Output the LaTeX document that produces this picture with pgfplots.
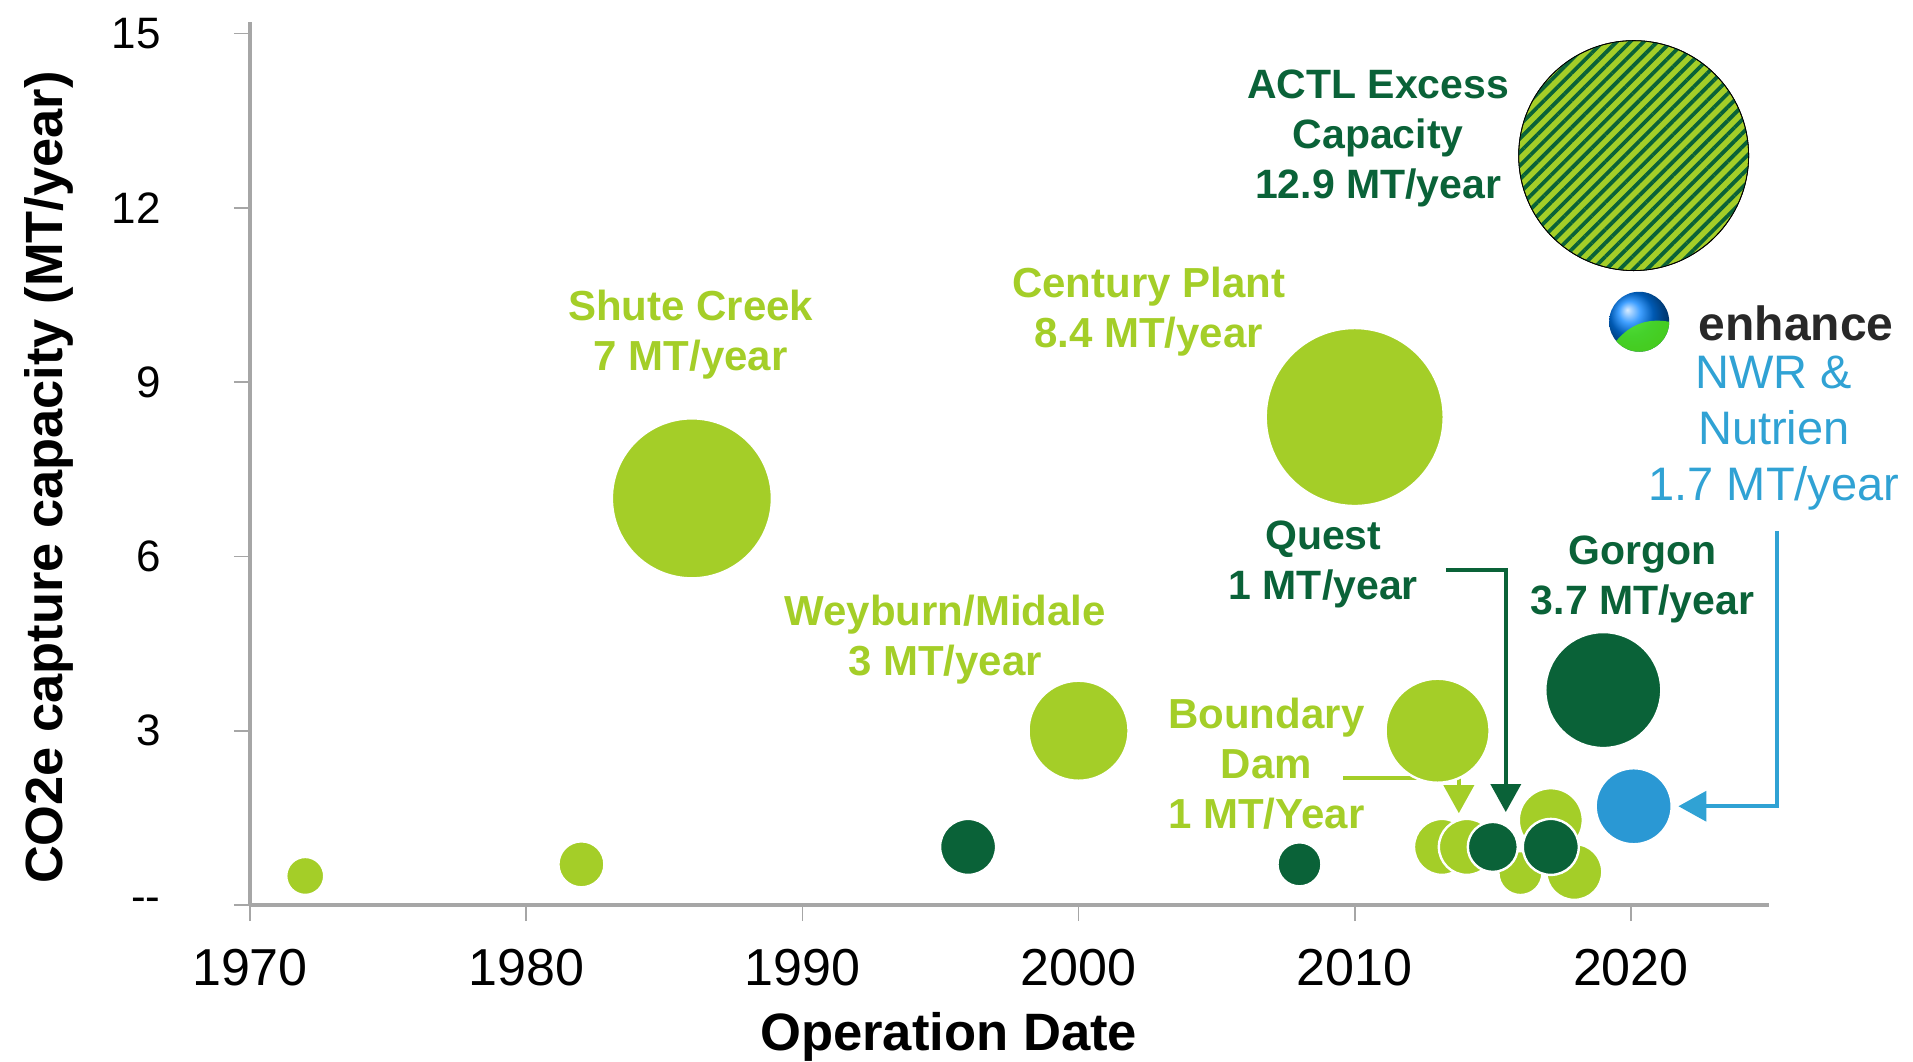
\documentclass[border=0pt]{standalone}
\usepackage{fontspec}
\setmainfont{Liberation Sans}
\usepackage{pgfplots}
\pgfplotsset{compat=1.18}
\usetikzlibrary{patterns.meta,arrows.meta}
\definecolor{lgreen}{RGB}{164,206,40}
\definecolor{dgreen}{RGB}{10,98,56}
\definecolor{bblue}{RGB}{42,152,212}
\definecolor{tblue}{RGB}{48,162,212}
\definecolor{axgray}{RGB}{166,166,166}
\pgfplotstableread{
x y r
1972 0.5 9.5
1982 0.7 11.5
1986 7.0 40
2000 3.0 25
2010 8.4 44.5
2013 3.0 26
2013.16 1.0 14
2014.06 1.0 14
2016.0 0.55 11
2017.1 1.46 16
2017.95 0.57 14
}\lighttab
\pgfplotstableread{
x y r
1996 1.0 14
2008 0.7 11
2015 1.0 12.5
2017.1 1.0 14
2019 3.7 29
}\darktab
\pgfplotstableread{
x y r
2020.1 1.7 19
}\bluetab
\pgfplotstableread{
x y r
2020.1 12.9 57.5
}\actltab
\pgfplotsset{
  bubble/.style={scatter, only marks, mark=*,
    scatter/use mapped color={draw=white, fill=#1},
    visualization depends on={\thisrow{r}\as\rr},
    scatter/@pre marker code/.append style={/tikz/mark size=\rr pt},
    mark options={line width=1.2pt}},
}
\begin{document}
\begin{tikzpicture}
\useasboundingbox (-125pt,-78pt) rectangle (831.5pt,452.5pt);
\begin{axis}[
  at={(0,0)}, anchor=south west,
  scale only axis, width=759.5pt, height=441.5pt,
  xmin=1970, xmax=2025, ymin=0, ymax=15.2,
  clip=false,
  axis x line*=bottom, axis y line*=left,
  axis line style={axgray, line width=1.6pt},
  tick style={axgray, line width=0.8pt},
  tick align=outside, major tick length=8pt,
  xtick={1970,1980,1990,2000,2010,2020},
  xticklabels={1970,1980,1990,2000,2010,2020},
  ytick={0,3,6,9,12,15},
  yticklabels={{-}{-},3,6,9,12,15},
  xticklabel style={font=\fontsize{26}{30}\selectfont, anchor=north, inner sep=0pt, yshift=-14pt},
  yticklabel style={font=\fontsize{22}{26}\selectfont, anchor=east, inner sep=0pt, xshift=-36.5pt},
  xlabel={Operation Date},
  ylabel={CO2e capture capacity (MT/year)},
  every axis x label/.style={at={(rel axis cs:0.46,0)}, yshift=-66pt, anchor=center, font=\fontsize{26.3}{30}\selectfont\bfseries},
  every axis y label/.style={at={(rel axis cs:0,0.484)}, xshift=-100.5pt, rotate=90, anchor=center, font=\fontsize{26.2}{30}\selectfont\bfseries},
]
\addplot[bubble=lgreen] table[x=x,y=y]{\lighttab};
\addplot[bubble=dgreen] table[x=x,y=y]{\darktab};
\addplot[bubble=bblue] table[x=x,y=y]{\bluetab};
\addplot[only marks, mark=*, mark size=57.5pt,
  mark options={draw=none, fill=lgreen}] table[x=x,y=y]{\actltab};
\addplot[only marks, mark=*, mark size=57.5pt,
  mark options={draw=none, pattern={Lines[angle=45, distance=4.8pt, line width=1.9pt]}, pattern color=dgreen}] table[x=x,y=y]{\actltab};

% annotations
\node[align=center, text=dgreen, font=\fontsize{20.5}{25}\selectfont\bfseries] at (axis cs:2010.85,13.19) {ACTL Excess\\Capacity\\12.9 MT/year};
\node[align=center, text=lgreen, font=\fontsize{21}{25}\selectfont\bfseries] at (axis cs:1985.96,9.82) {Shute Creek\\7 MT/year};
\node[align=center, text=lgreen, font=\fontsize{21}{25}\selectfont\bfseries] at (axis cs:2002.54,10.21) {Century Plant\\8.4 MT/year};
\node[align=center, text=lgreen, font=\fontsize{21}{25}\selectfont\bfseries] at (axis cs:1995.17,4.56) {Weyburn/Midale\\3 MT/year};
\node[align=center, text=dgreen, font=\fontsize{20.5}{25}\selectfont\bfseries] at (axis cs:2008.86,5.86) {Quest\\1 MT/year};
\node[align=center, text=dgreen, font=\fontsize{20.5}{25}\selectfont\bfseries] at (axis cs:2020.42,5.60) {Gorgon\\3.7 MT/year};
\node[align=center, text=lgreen, font=\fontsize{21}{25}\selectfont\bfseries] at (axis cs:2006.8,2.43) {Boundary\\Dam\\1 MT/Year};
\node[text={rgb,255:red,40;green,40;blue,40}, font=\fontsize{24}{28}\selectfont\bfseries] at (axis cs:2025.98,10.02) {enhance};
\node[align=center, text=tblue, font=\fontsize{23.5}{28}\selectfont] at (axis cs:2025.18,8.12) {NWR \&\\Nutrien\\1.7 MT/year};
\shade[ball color=cyan!50!blue] (axis cs:2020.3,10.04) circle[radius=15pt];
\fill[green!50!lgreen, opacity=0.85] (axis cs:2020.3,10.04) ++(15pt,0pt) arc[start angle=0, end angle=-140, radius=15pt] to[bend left=30] cycle;

\draw[dgreen, line width=1.8pt, -{Triangle[width=15pt,length=14pt]}] (axis cs:2013.3,5.77) -- (axis cs:2015.47,5.77) -- (axis cs:2015.47,1.60);
\draw[lgreen, line width=1.8pt, -{Triangle[width=15pt,length=14pt]}] (axis cs:2009.58,2.19) -- (axis cs:2013.77,2.19) -- (axis cs:2013.77,1.58);
\draw[tblue, line width=1.8pt, -{Triangle[width=15pt,length=14pt]}] (axis cs:2025.29,6.44) -- (axis cs:2025.29,1.70) -- (axis cs:2021.72,1.70);
\end{axis}
\end{tikzpicture}
\end{document}
